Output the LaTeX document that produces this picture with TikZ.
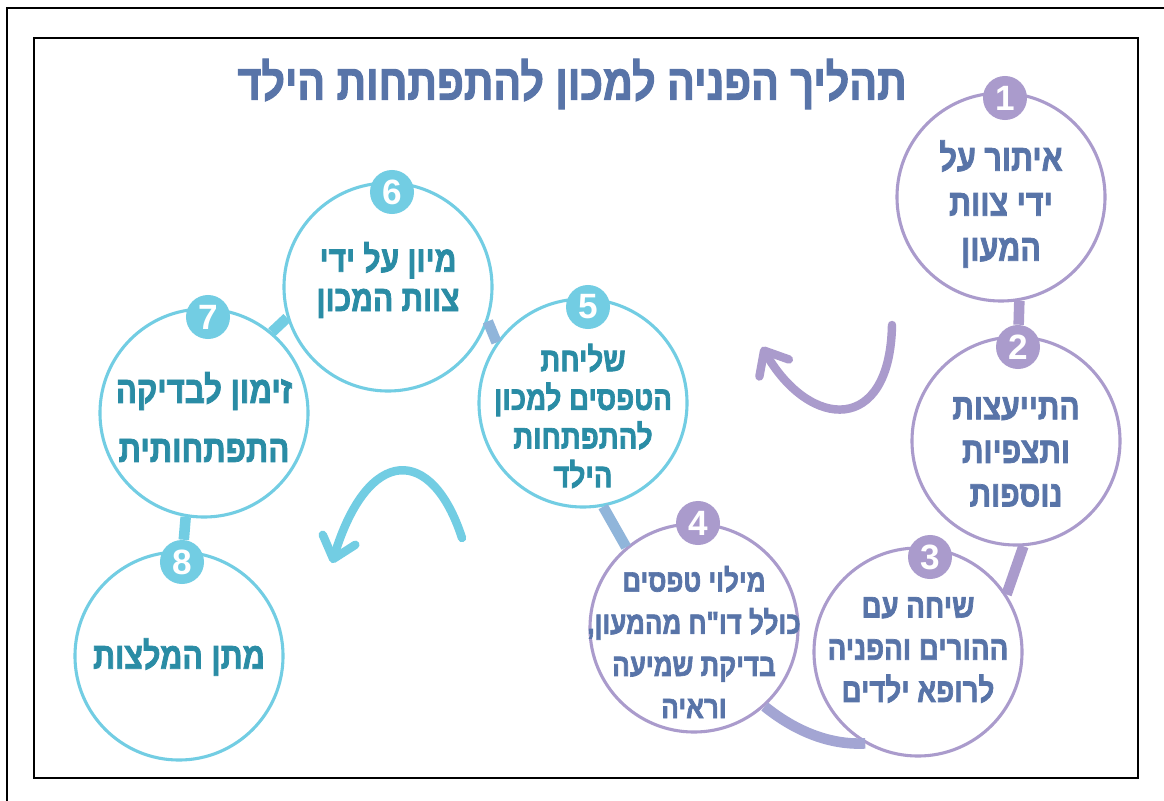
\documentclass[tikz,border=0pt]{standalone}
\usepackage{fontspec}
\usepackage{tikz}
\usetikzlibrary{arrows.meta,positioning}
\TeXXeTstate=1
\newfontfamily\hebfont[Script=Hebrew,FakeStretch=0.82,BoldFeatures={FakeBold=2}]{Liberation Sans}
\newfontfamily\numfont{Liberation Sans}
\newcommand{\heb}[1]{\beginR #1\endR}

\definecolor{lav}{HTML}{AA9BCC}
\definecolor{sky}{HTML}{72CDE3}
\definecolor{steel}{HTML}{5874A8}
\definecolor{teal}{HTML}{2A8CA5}
\definecolor{midbar}{HTML}{90B5DA}
\definecolor{lowbar}{HTML}{A3A5D3}

\tikzset{
  stepcirc/.style={circle, draw=#1, line width=2.2pt, fill=white, minimum size=5.2cm, inner sep=0pt},
  badge/.style={circle, fill=#1, minimum size=1.1cm, inner sep=0pt, text=white, font=\numfont\bfseries\fontsize{25}{25}\selectfont},
  steptext/.style 2 args={align=center, font=\hebfont\bfseries\fontsize{#1}{#2}\selectfont},
  bar/.style={draw=#1, line width=7.5pt},
  curl/.style={draw=#1, line width=6pt, line cap=round, -{Straight Barb[length=0.5cm, width=0.85cm, round]}}
}

\begin{document}
\begin{tikzpicture}[x=0.025cm, y=-0.025cm]
\useasboundingbox (0,0) rectangle (1164,801);
\fill[white] (0,0) rectangle (1164,801);
% frames
\draw[line width=0.8pt] (7,801) -- (7,8) -- (1164,8);
\draw[line width=2pt] (34,38) rectangle (1138,778);

\node[font=\hebfont\bfseries\fontsize{35.7}{44}\selectfont, text=steel] (title) at (572,84) {\heb{תהליך הפניה למכון להתפתחות הילד}};

% step circles
\node[stepcirc=lav] (s1) at (1001,197) {};
\node[stepcirc=lav] (s2) at (1016,441) {};
\node[stepcirc=lav] (s3) at (918,652) {};
\node[stepcirc=lav] (s4) at (694,628) {};
\node[stepcirc=sky] (s5) at (583,403) {};
\node[stepcirc=sky] (s6) at (388,287) {};
\node[stepcirc=sky] (s7) at (204,413) {};
\node[stepcirc=sky] (s8) at (179,656) {};

% texts
\node[steptext={26.5}{32}, text=steel] (t1) at (1001,204) {\heb{איתור על}\\\heb{ידי צוות}\\\heb{המעון}};
\node[steptext={26}{31}, text=steel] (t2) at (1016,452) {\heb{התייעצות}\\\heb{ותצפיות}\\\heb{נוספות}};
\node[steptext={24}{30}, text=steel] (t3) at (918,650) {\heb{שיחה עם}\\\heb{ההורים והפניה}\\\heb{לרופא ילדים}};
\node[steptext={22.5}{30}, text=steel] (t4) at (694,642) {\heb{מילוי טפסים}\\\heb{כולל דו"ח מהמעון,}\\\heb{בדיקת שמיעה}\\\heb{וראיה}};
\node[steptext={24}{27.5}, text=teal] (t5) at (583,416) {\heb{שליחת}\\\heb{הטפסים למכון}\\\heb{להתפתחות}\\\heb{הילד}};
\node[steptext={26}{28}, text=teal] (t6) at (388,280) {\heb{מיון על ידי}\\\heb{צוות המכון}};
\node[steptext={27}{42}, text=teal] (t7) at (204,417) {\heb{זימון לבדיקה}\\\heb{התפתחותית}};
\node[steptext={26.5}{30}, text=teal] (t8) at (179,657) {\heb{מתן המלצות}};

% number badges
\node[badge=lav] (b1) at (1005,98) {1};
\node[badge=lav] (b2) at (1018,347) {2};
\node[badge=lav] (b3) at (930,557) {3};
\node[badge=lav] (b4) at (698,523) {4};
\node[badge=sky] (b5) at (588,307) {5};
\node[badge=sky] (b6) at (392,192) {6};
\node[badge=sky] (b7) at (208,317) {7};
\node[badge=sky] (b8) at (182,562) {8};

% links
\draw[bar=lav] (s1.-80) -- (b2);
\draw[bar=lav] (s2.-86) -- (s3.33);
\draw[bar=lowbar] (s4.-48) .. controls (800,735) and (835,745) .. (s3.240);
\draw[bar=midbar] (s5.-79) -- (s4.130);
\draw[bar=midbar] (s6.-19) -- (s5.145);
\draw[bar=sky] (s6.197) -- (s7.50);
\draw[bar=sky] (s7.-100) -- (b8);

% turning arrows
\draw[curl=lav] (892,325) .. controls (890,435) and (810,430) .. (762,347);
\draw[curl=sky] (462,538) .. controls (432,445) and (368,445) .. (332,563);
\end{tikzpicture}
\end{document}
